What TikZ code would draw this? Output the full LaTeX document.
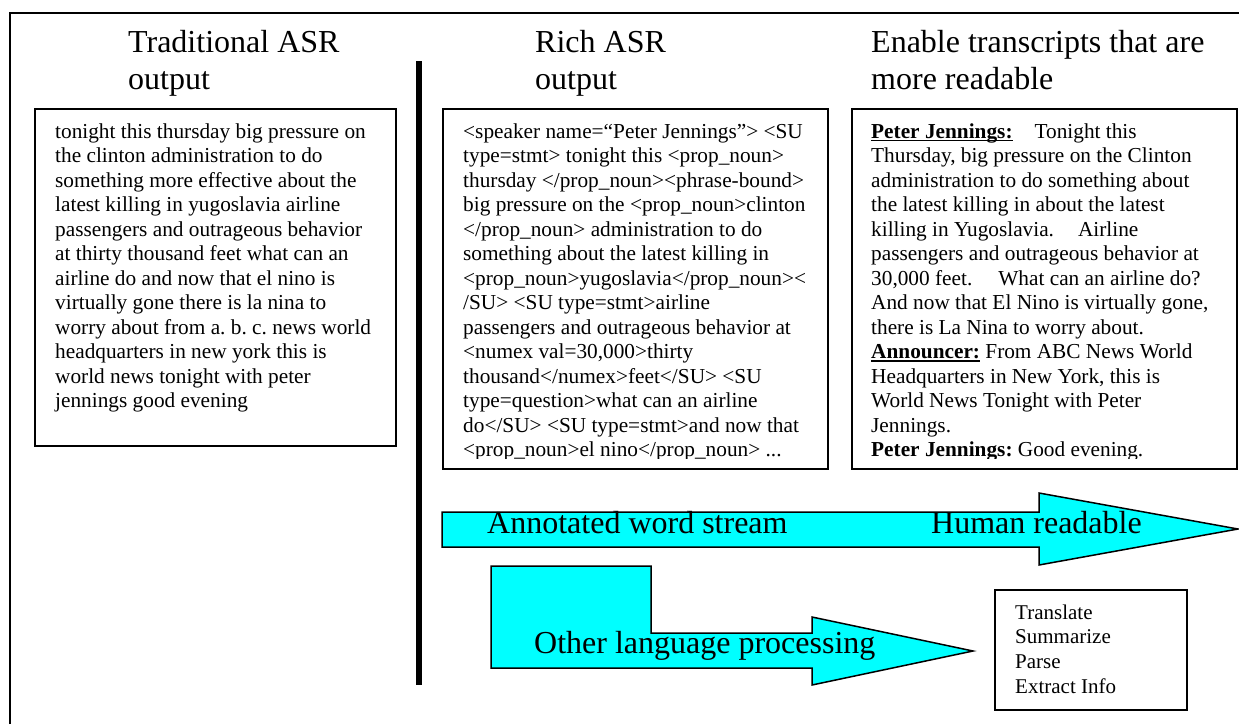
\documentclass[tikz,border=0pt]{standalone}
\usepackage{fontspec}
\setmainfont{Liberation Serif}
\definecolor{aqua}{RGB}{0,255,255}
% bold speaker tag with a rule just under the baseline
\newcommand\speakertag[1]{\setbox0\hbox{\textbf{#1}}\rlap{\rule[-2.6pt]{\wd0}{1.5pt}}\box0\relax}
\begin{document}
\frenchspacing
\begin{tikzpicture}[x=1pt,y=-1pt,
  frameline/.style={line width=2pt},
  textbox/.style={draw=black, line width=1.8pt, inner sep=0pt, anchor=north west},
  heading/.style={font=\fontsize{32}{37}\selectfont, align=left, anchor=north west, inner sep=0pt},
  bodytext/.style={font=\fontsize{21.3}{24.5}\selectfont, align=left, anchor=north west, inner sep=0pt},
  flow/.style={fill=aqua, draw=black, line width=1.5pt, line join=miter},
  flowlabel/.style={font=\fontsize{32}{38}\selectfont, anchor=base west, inner sep=0pt}]
\useasboundingbox (0,0) rectangle (1239,724);

% outer frame (left and top edges) and the dividing bar
\draw[frameline] (10,724) -- (10,13) -- (1239,13);
\draw[line width=6pt] (419,61) -- (419,685);

% column headings
\node[heading] (h1) at (128,30) {Traditional ASR\\output};
\node[heading] (h2) at (535,30) {Rich ASR\\output};
\node[heading] (h3) at (871,30) {Enable transcripts that are\\more readable};

% text boxes
\node[textbox, minimum width=361pt, minimum height=337pt] (raw) at (34,108) {};
\node[textbox, minimum width=385pt, minimum height=360pt] (rich) at (442,108) {};
\node[textbox, minimum width=385pt, minimum height=360pt] (readable) at (851,108) {};

\node[bodytext] (rawtext) at (55,123.5) {tonight this thursday big pressure on\\
the clinton administration to do\\
something more effective about the\\
latest killing in yugoslavia airline\\
passengers and outrageous behavior\\
at thirty thousand feet what can an\\
airline do and now that el nino is\\
virtually gone there is la nina to\\
worry about from a. b. c. news world\\
headquarters in new york this is\\
world news tonight with peter\\
jennings good evening};

\begin{scope}
\clip (442,108) rectangle (1236,458);
\node[bodytext] (richtext) at (463,123.5) {<speaker name=``Peter Jennings''> <SU\\
type=stmt> tonight this <prop\_noun>\\
thursday </prop\_noun><phrase-bound>\\
big pressure on the <prop\_noun>clinton\\
</prop\_noun> administration to do\\
something about the latest killing in\\
<prop\_noun>yugoslavia</prop\_noun><\\
/SU> <SU type=stmt>airline\\
passengers and outrageous behavior at\\
<numex val=30,000>thirty\\
thousand</numex>feet</SU> <SU\\
type=question>what can an airline\\
do</SU> <SU type=stmt>and now that\\
<prop\_noun>el nino</prop\_noun> ...};
\node[bodytext] (readtext) at (871,123.5) {\speakertag{Peter Jennings:}\hspace*{22pt}Tonight this\\
Thursday, big pressure on the Clinton\\
administration to do something about\\
the latest killing in about the latest\\
killing in Yugoslavia.\hspace*{24pt}Airline\\
passengers and outrageous behavior at\\
30,000 feet.\hspace*{26pt}What can an airline do?\\
And now that El Nino is virtually gone,\\
there is La Nina to worry about.\\
\speakertag{Announcer:} From ABC News World\\
Headquarters in New York, this is\\
World News Tonight with Peter\\
Jennings.\\
\textbf{Peter Jennings:} Good evening.};
\end{scope}

% block arrows
\draw[flow] (442,512) -- (1039,512) -- (1039,493) -- (1238,529)
  -- (1039,565) -- (1039,547) -- (442,547) -- cycle;
\draw[flow] (491,566) -- (651,566) -- (651,633) -- (812,633) -- (812,617)
  -- (973,651) -- (812,685) -- (812,668) -- (491,668) -- cycle;

\node[flowlabel] (ann) at (487,533) {Annotated word stream};
\node[flowlabel] (hum) at (931,533) {Human readable};
\node[flowlabel] (other) at (534,653) {Other language processing};

% applications box
\node[textbox, minimum width=192pt, minimum height=120pt] (apps) at (994,589) {};
\node[bodytext, font=\fontsize{21}{24.7}\selectfont] (appstext) at (1015,604.5) {Translate\\Summarize\\Parse\\Extract Info};
\end{tikzpicture}
\end{document}
